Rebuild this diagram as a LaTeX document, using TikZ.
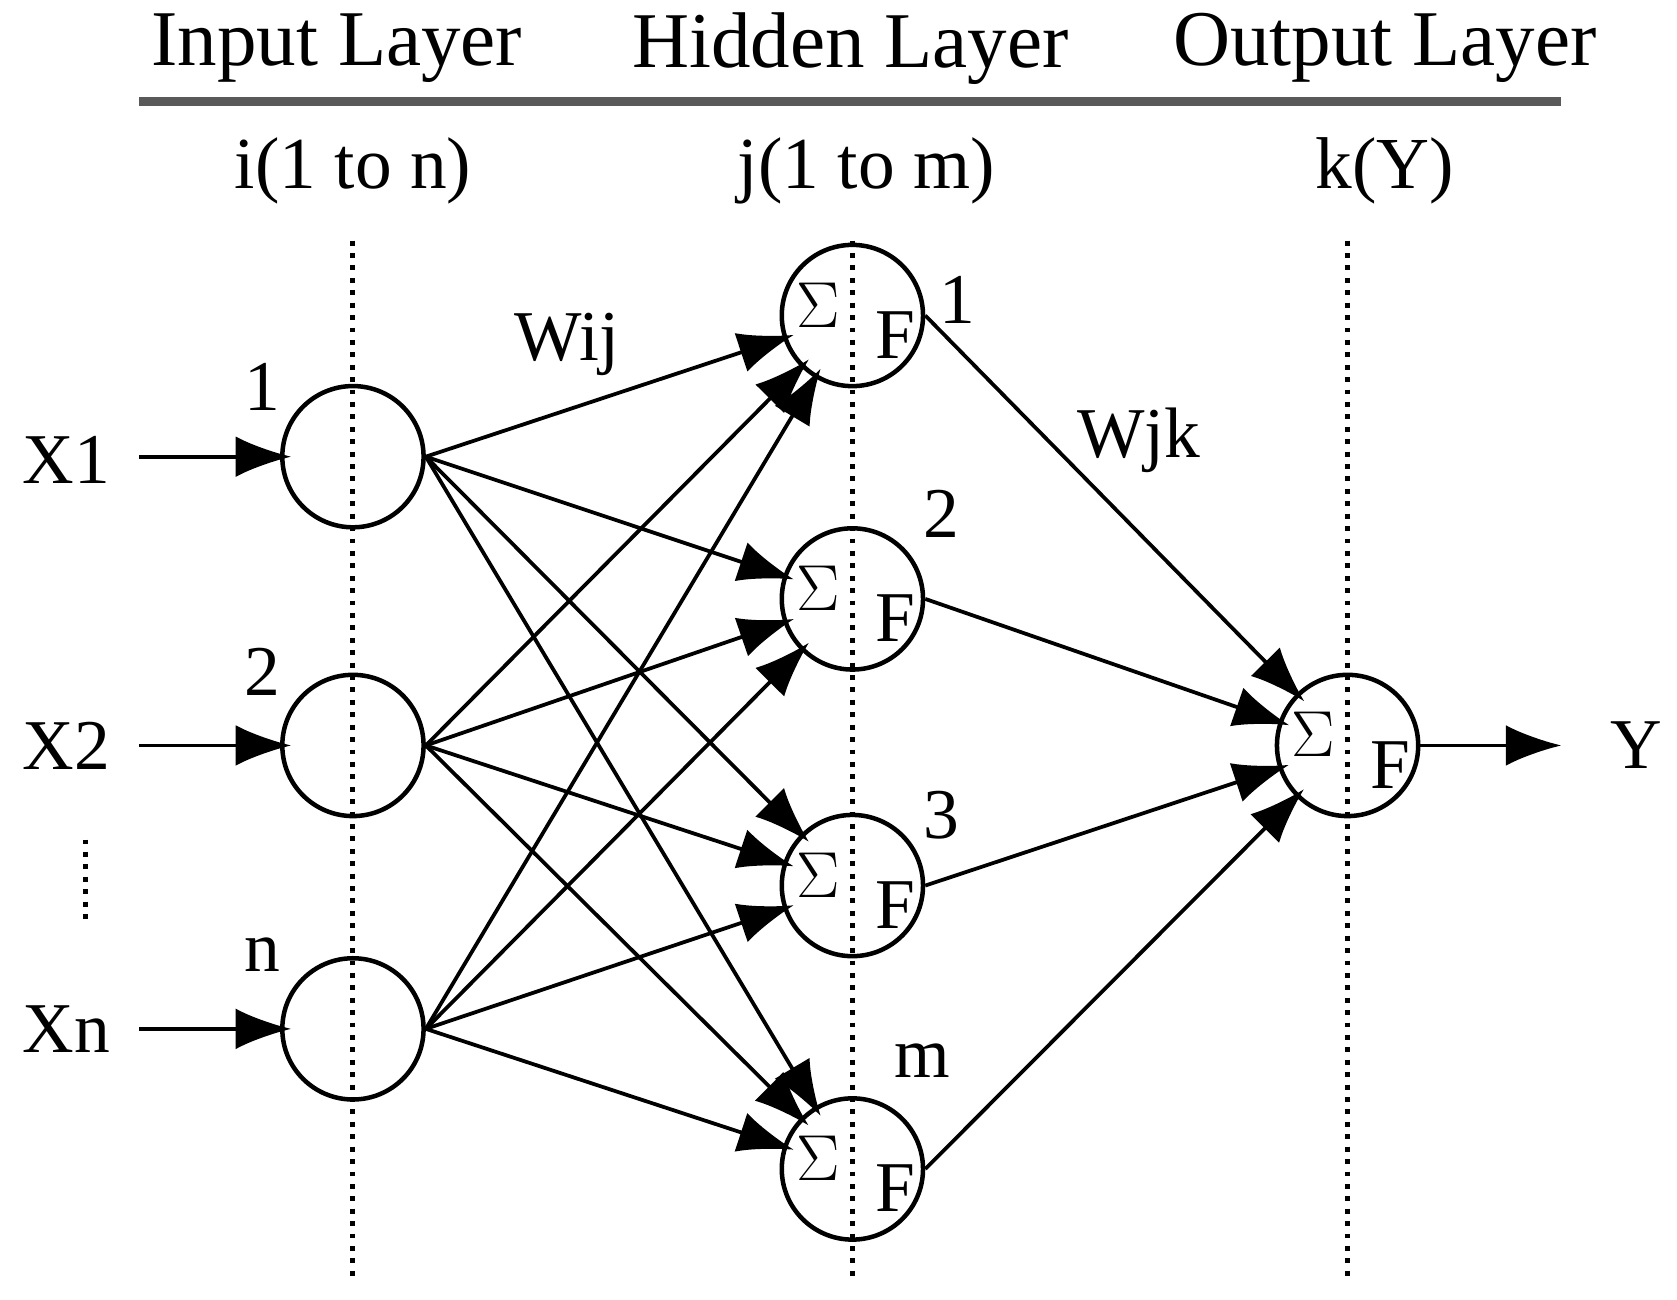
\documentclass[tikz,border=0pt]{standalone}
\usepackage{fontspec}
\setmainfont{Liberation Serif}
\usetikzlibrary{arrows.meta}
\begin{document}
\begin{tikzpicture}[x=0.01cm,y=-0.01cm,
  neuron/.style={circle,draw,line width=1.2pt,minimum size=1.32cm,inner sep=0pt},
  ar/.style={line width=1pt,-{Latex[length=0.52cm,width=0.38cm]},shorten >=-3pt},
  lbl/.style={font=\fontsize{19}{22}\selectfont},
  head/.style={font=\fontsize{21}{24}\selectfont},
  sub/.style={font=\fontsize{19.5}{22}\selectfont},
  dots/.style={dotted,line width=1.3pt}]
\useasboundingbox (0,0) rectangle (1568,1215);
\node[head] (h1) at (315,45) {Input Layer};
\node[head] (h2) at (795,45) {Hidden Layer};
\node[head] (h3) at (1295,45) {Output Layer};
\draw[gray!70!black,line width=2.5pt] (130,95) -- (1460,95);
\node[sub] (s1) at (330,160) {i(1 to n)};
\node[sub] (s2) at (810,160) {j(1 to m)};
\node[sub] (s3) at (1295,160) {k(Y)};
\draw[dots] (330,225) -- (330,1195);
\draw[dots] (797,225) -- (797,1195);
\draw[dots] (1260,225) -- (1260,1195);
\node[neuron] (i1) at (330,427) {};
\node[neuron] (i2) at (330,697) {};
\node[neuron] (i3) at (330,962) {};
\foreach \n/\y in {1/295,2/560,3/828,4/1093}{
  \node[neuron] (j\n) at (797,\y) {};
  \node[lbl,font=\fontsize{17}{20}\selectfont] at (765,\y-10) {$\Sigma$};
  \node[lbl] at (837,\y+18) {F};
}
\node[neuron] (k) at (1260,697) {};
\node[lbl,font=\fontsize{17}{20}\selectfont] at (1228,687) {$\Sigma$};
\node[lbl] at (1300,715) {F};
\node[lbl] (l1) at (245,362) {1};
\node[lbl] (l2) at (245,628) {2};
\node[lbl] (l3) at (245,893) {n};
\node[lbl] (m1) at (895,280) {1};
\node[lbl] (m2) at (880,480) {2};
\node[lbl] (m3) at (880,762) {3};
\node[lbl] (m4) at (862,992) {m};
\node[lbl] (wij) at (530,322) {Wij};
\node[lbl] (wjk) at (1065,412) {Wjk};
\node[lbl] (x1) at (62,430) {X1};
\node[lbl] (x2) at (62,697) {X2};
\node[lbl] (x3) at (62,962) {Xn};
\coordinate (a1) at (130,427);
\coordinate (a2) at (130,697);
\coordinate (a3) at (130,962);
\draw[dots] (80,785) -- (80,865);
\draw[ar] (a1) -- (i1);
\draw[ar] (a2) -- (i2);
\draw[ar] (a3) -- (i3);
\foreach \i in {1,2,3}{\foreach \j in {1,2,3,4}{\draw[ar] (i\i.east) -- (j\j);}}
\foreach \j in {1,2,3,4}{\draw[ar] (j\j.east) -- (k);}
\node[lbl] (y) at (1530,697) {Y};
\coordinate (ye) at (1460,697);
\draw[ar,shorten >=0pt] (k) -- (ye);
\end{tikzpicture}
\end{document}
